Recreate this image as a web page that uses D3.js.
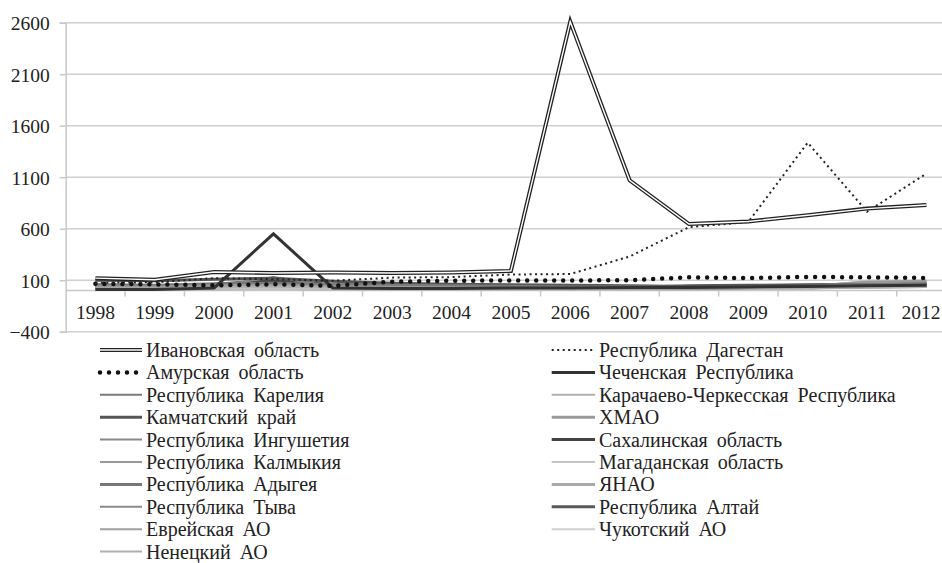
<!DOCTYPE html>
<html><head><meta charset="utf-8">
<script src="https://cdn.jsdelivr.net/npm/d3@7"></script>
<style>
#chart text { font-family: "Times New Roman", "Liberation Serif", Tinos, FreeSerif, Times !important; }
</style>
</head>
<body style="margin:0">
<svg id="chart" width="942" height="563"></svg>
<script>
const years = ["1998","1999","2000","2001","2002","2003","2004","2005","2006","2007","2008","2009","2010","2011","2012"];
const yTicks = [-400,100,600,1100,1600,2100,2600];

const names = ["Ивановская область","Республика Дагестан","Амурская область","Чеченская Республика",
 "Республика Карелия","Карачаево-Черкесская Республика","Камчатский край","ХМАО",
 "Республика Ингушетия","Сахалинская область","Республика Калмыкия","Магаданская область",
 "Республика Адыгея","ЯНАО","Республика Тыва","Республика Алтай","Еврейская АО","Чукотский АО","Ненецкий АО"];

const ivanovo   = [120,105,180,170,175,170,175,190,2610,1070,645,670,730,795,830];
const dagestan  = [75,80,120,110,95,125,130,155,160,330,615,665,1435,765,1135];
const amur      = [65,60,50,60,45,85,95,97,97,100,128,120,132,128,122];
const chechnya  = [10,10,25,550,25,20,20,25,25,30,30,35,40,45,50];
const karelia   = [60,55,70,75,60,55,50,45,40,40,35,40,45,60,70];
const kchr      = [20,20,30,40,30,25,25,20,20,20,20,25,25,30,35];
const kamchatka = [100,95,110,120,90,70,60,55,50,45,40,45,50,55,60];
const khmao     = [40,40,50,60,50,45,40,35,35,30,30,35,40,80,90];
const ingush    = [30,30,40,130,40,30,30,25,25,20,20,25,30,40,45];
const sakhalin  = [50,45,60,100,55,45,40,35,30,30,25,30,35,40,45];
const kalmykia  = [25,25,35,45,35,30,30,25,25,20,20,20,25,30,35];
const magadan   = [15,15,20,25,20,15,15,15,15,15,15,15,20,95,95];
const adygea    = [35,35,40,45,35,30,30,30,30,30,35,40,45,55,60];
const yanao     = [20,20,25,30,25,20,20,20,20,20,25,30,35,85,90];
const tyva      = [30,30,35,40,35,30,25,25,25,25,25,25,30,40,45];
const altai     = [45,40,45,50,40,35,35,30,30,30,45,50,55,60,65];
const evrei     = [15,15,20,25,20,20,20,20,15,15,15,20,20,30,35];
const chukotka  = [10,10,15,20,15,15,15,15,15,15,15,20,20,70,80];
const nenets    = [5,5,10,15,10,10,10,10,10,10,10,15,15,60,70];

const seriesValues = [ivanovo,dagestan,amur,chechnya,karelia,kchr,kamchatka,khmao,ingush,sakhalin,
  kalmykia,magadan,adygea,yanao,tyva,altai,evrei,chukotka,nenets];

const styles = [
 {t:"double",c:"#222",w:4},
 {t:"fine",c:"#222",w:2},
 {t:"bold",c:"#111",w:4.5},
 {t:"solid",c:"#333",w:3},
 {t:"solid",c:"#7a7a7a",w:2},
 {t:"solid",c:"#b0b0b0",w:2},
 {t:"solid",c:"#555",w:3},
 {t:"solid",c:"#9a9a9a",w:3},
 {t:"solid",c:"#888",w:2},
 {t:"solid",c:"#444",w:3},
 {t:"solid",c:"#9a9a9a",w:2},
 {t:"solid",c:"#c4c4c4",w:2},
 {t:"solid",c:"#777",w:3},
 {t:"solid",c:"#aaa",w:3},
 {t:"solid",c:"#8a8a8a",w:2},
 {t:"solid",c:"#5a5a5a",w:3},
 {t:"solid",c:"#a0a0a0",w:2},
 {t:"solid",c:"#d0d0d0",w:2},
 {t:"solid",c:"#b0b0b0",w:2}
];

const FONT = '"Times New Roman", "Liberation Serif", Tinos, FreeSerif';
const svg = d3.select("#chart");
const plotLeft = 65.7, bandW = 59.36, plotTop = 22.7, plotBottom = 331.7;
const x = d3.scaleBand().domain(years).range([plotLeft, plotLeft + bandW*years.length]).padding(0);
const y = d3.scaleLinear().domain([-400,2600]).range([plotBottom, plotTop]);
const cx = d => x(d) + x.bandwidth()/2;

// grid lines
svg.append("g").selectAll("line").data(yTicks).join("line")
  .attr("x1",plotLeft).attr("x2",942).attr("y1",d=>y(d)).attr("y2",d=>y(d))
  .attr("stroke","#d0d0d0").attr("stroke-width",1.5);

// y axis
const yAxis = d3.axisLeft(y).tickValues(yTicks).tickSize(6).tickFormat(d3.format("d"));
const gy = svg.append("g").attr("transform",`translate(${plotLeft},0)`).call(yAxis);
gy.attr("font-family",FONT).attr("font-size",19.5);
gy.select(".domain").attr("stroke","#c8c8c8").attr("stroke-width",1.5);
gy.selectAll(".tick line").attr("stroke","#c8c8c8").attr("stroke-width",1.5);
gy.selectAll(".tick text").attr("x",-16).attr("dy","0.35em").attr("fill","#222")
  .style("font-family",FONT).attr("font-size",19.5);

// category axis at zero
svg.append("line").attr("x1",plotLeft).attr("x2",942).attr("y1",y(0)).attr("y2",y(0))
  .attr("stroke","#c8c8c8").attr("stroke-width",1.5);
svg.append("g").selectAll("line").data(years.slice(1)).join("line")
  .attr("x1",d=>x(d)).attr("x2",d=>x(d)).attr("y1",y(0)).attr("y2",y(0)+6)
  .attr("stroke","#c8c8c8").attr("stroke-width",1.5);
svg.selectAll("text.year").data(years).join("text").attr("class","year")
  .attr("x",d=>Math.min(cx(d), 921)).attr("y",y(0)+22).attr("dy","0.35em").attr("text-anchor","middle")
  .attr("fill","#222").style("font-family",FONT).attr("font-size",19.5).text(d=>d);

const line = d3.line().x((d,i)=>cx(years[i])).y(d=>y(d));

function drawPath(g, s, dAttr){
  if (s.t === "double"){
    g.append("path").attr("d",dAttr).attr("fill","none").attr("stroke",s.c).attr("stroke-width",s.w).attr("stroke-linejoin","miter");
    g.append("path").attr("d",dAttr).attr("fill","none").attr("stroke","#fff").attr("stroke-width",1.4).attr("stroke-linejoin","miter");
  } else if (s.t === "fine"){
    g.append("path").attr("d",dAttr).attr("fill","none").attr("stroke",s.c).attr("stroke-width",s.w)
      .attr("stroke-dasharray","2,3.5");
  } else if (s.t === "bold"){
    g.append("path").attr("d",dAttr).attr("fill","none").attr("stroke",s.c).attr("stroke-width",s.w)
      .attr("stroke-dasharray","0,9").attr("stroke-linecap","round");
  } else {
    g.append("path").attr("d",dAttr).attr("fill","none").attr("stroke",s.c).attr("stroke-width",s.w)
      .attr("stroke-linejoin","miter");
  }
}

const gl = svg.append("g");
for (let k = seriesValues.length-1; k >= 0; k--){
  drawPath(gl.append("g"), styles[k], line(seriesValues[k]));
}

// legend
const rowH = 22.4, row0 = 350;
const legendRows = names.map((n,k)=>({name:n, k:k, col:k%2, row:Math.floor(k/2)}));
const lg = svg.append("g");
legendRows.forEach(r=>{
  const x0 = r.col===0 ? 100 : 551.7, x1 = r.col===0 ? 142 : 595;
  drawPath(lg.append("g"), styles[r.k], `M${x0},${row0 + r.row*rowH}L${x1},${row0 + r.row*rowH}`);
});
svg.selectAll("text.leg").data(legendRows).join("text").attr("class","leg")
  .attr("x", r => (r.col===0 ? 142 : 595) + 4)
  .attr("y", r => row0 + r.row*rowH).attr("dy","0.35em").attr("fill","#222")
  .style("font-family",FONT).attr("font-size",20).style("word-spacing","4px")
  .text(r => r.name);
</script>
</body></html>
